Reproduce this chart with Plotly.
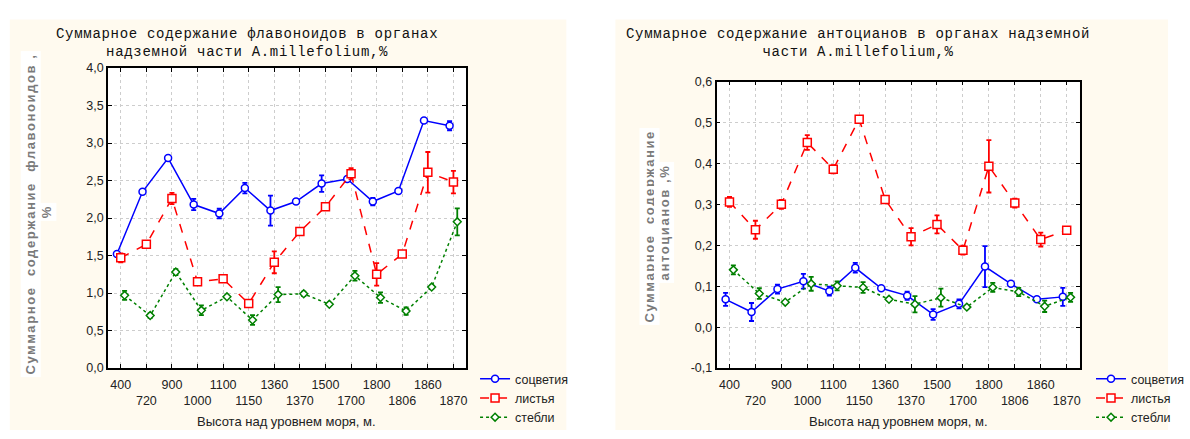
import plotly.graph_objects as go

# ---------------- data ----------------
altitudes = ["400", "720", "900", "1000", "1100", "1150", "1360", "1370",
             "1500", "1700", "1800", "1806", "1860", "1870"]
series_names = ["соцветия", "листья", "стебли"]

# Flavonoids, %
flav_infl = [1.52, 2.35, 2.80, 2.18, 2.06, 2.40, 2.10, 2.22, 2.46, 2.52, 2.22, 2.36, 3.30, 3.23]
flav_infl_err = [0.02, 0.02, 0.02, 0.075, 0.064, 0.07, 0.20, 0.03, 0.11, 0.02, 0.05, 0.01, 0.01, 0.06]
flav_leaf = [1.47, 1.65, 2.26, 1.15, 1.19, 0.86, 1.41, 1.82, 2.15, 2.59, 1.25, 1.52, 2.61, 2.48]
flav_leaf_err = [0.06, 0.03, 0.075, 0.03, 0.03, 0.02, 0.146, 0.03, 0.02, 0.075, 0.15, 0.02, 0.27, 0.15]
flav_stem = [0.97, 0.70, 1.28, 0.77, 0.95, 0.64, 0.98, 0.99, 0.85, 1.23, 0.94, 0.76, 1.08, 1.95]
flav_stem_err = [0.06, 0.03, 0.04, 0.065, 0.01, 0.065, 0.10, 0.03, 0.01, 0.065, 0.07, 0.05, 0.02, 0.18]

# Anthocyanins, %
anth_infl = [0.068, 0.037, 0.093, 0.112, 0.088, 0.145, 0.095, 0.077, 0.031, 0.057, 0.148, 0.106, 0.068, 0.074]
anth_infl_err = [0.016, 0.022, 0.011, 0.018, 0.011, 0.012, 0.003, 0.010, 0.013, 0.011, 0.050, 0.004, 0.004, 0.022]
anth_leaf = [0.306, 0.238, 0.300, 0.451, 0.386, 0.508, 0.312, 0.221, 0.251, 0.188, 0.393, 0.303, 0.214, 0.237]
anth_leaf_err = [0.012, 0.022, 0.011, 0.018, 0.010, 0.005, 0.003, 0.021, 0.022, 0.011, 0.064, 0.011, 0.017, 0.008]
anth_stem = [0.140, 0.082, 0.061, 0.106, 0.101, 0.097, 0.068, 0.056, 0.072, 0.049, 0.097, 0.086, 0.051, 0.073]
anth_stem_err = [0.011, 0.013, 0.003, 0.017, 0.011, 0.013, 0.003, 0.020, 0.022, 0.003, 0.011, 0.010, 0.014, 0.011]

flav_yticks = [0.0, 0.5, 1.0, 1.5, 2.0, 2.5, 3.0, 3.5, 4.0]
flav_yticktext = ["0,0", "0,5", "1,0", "1,5", "2,0", "2,5", "3,0", "3,5", "4,0"]
anth_yticks = [-0.1, 0.0, 0.1, 0.2, 0.3, 0.4, 0.5, 0.6]
anth_yticktext = ["-0,1", "0,0", "0,1", "0,2", "0,3", "0,4", "0,5", "0,6"]

# ---------------- styles ----------------
W, H = 1190, 439
colors = {"соцветия": "#0000ff", "листья": "#ff0000", "стебли": "#008000"}
dashes = {"соцветия": "solid", "листья": "dash", "стебли": "dot"}
symbols = {"соцветия": "circle", "листья": "square", "стебли": "diamond"}
msizes = {"соцветия": 7, "листья": 8, "стебли": 6}
offsets = {"соцветия": -0.15, "листья": 0.0, "стебли": 0.15}
cream = "#fffaef"


def px_x(p):
    return p / W


def px_y(p):
    return 1 - p / H


fig = go.Figure()

idx = list(range(len(altitudes)))
panels = [
    ("x", "y", "legend", [(flav_infl, flav_infl_err), (flav_leaf, flav_leaf_err), (flav_stem, flav_stem_err)]),
    ("x2", "y2", "legend2", [(anth_infl, anth_infl_err), (anth_leaf, anth_leaf_err), (anth_stem, anth_stem_err)]),
]
for xa, ya, lg, data in panels:
    for name, (vals, errs) in zip(series_names, data):
        c = colors[name]
        fig.add_trace(go.Scatter(
            x=[i + offsets[name] for i in idx], y=vals, name=name,
            xaxis=xa, yaxis=ya, legend=lg, mode="lines+markers",
            line=dict(color=c, width=1.5, dash=dashes[name]),
            marker=dict(symbol=symbols[name], size=msizes[name], color="white",
                        line=dict(color=c, width=1.5)),
            error_y=dict(type="data", array=errs, visible=True, color=c,
                         thickness=1.8, width=2.5),
        ))

tickvals = idx
ticktext = [a if i % 2 == 0 else "<br>" + a for i, a in enumerate(altitudes)]

common_x = dict(range=[-0.5, 13.5], tickmode="array", tickvals=tickvals, ticktext=ticktext,
                tickangle=0, ticklabelstandoff=4,
                showgrid=True, gridcolor="#cdcdcd", griddash="dot", gridwidth=1,
                showline=True, linecolor="black", linewidth=1.5, mirror="ticks",
                ticks="inside", ticklen=4, tickcolor="black", zeroline=False,
                tickfont=dict(family="Liberation Sans, Arial", size=12.5, color="#222"))
common_y = dict(showgrid=True, gridcolor="#cdcdcd", griddash="dot", gridwidth=1,
                showline=True, linecolor="black", linewidth=1.5, mirror="ticks",
                ticks="inside", ticklen=4, tickcolor="black", zeroline=False,
                tickfont=dict(family="Liberation Sans, Arial", size=12.5, color="#222"))

# plot areas (pixels)
L = dict(x0=110, x1=475, y0=63, y1=373)
R = dict(x0=730, x1=1100, y0=77, y1=373)

legend_font = dict(family="Liberation Sans, Arial", size=12.5, color="#222")
fig.update_layout(
    width=W, height=H, margin=dict(l=0, r=0, t=0, b=0),
    paper_bgcolor="white", plot_bgcolor="white",
    xaxis=dict(domain=[px_x(L["x0"]), px_x(L["x1"])], anchor="y", **common_x),
    yaxis=dict(domain=[px_y(L["y1"]), px_y(L["y0"])], anchor="x", range=[0, 4],
               tickmode="array", tickvals=flav_yticks, ticktext=flav_yticktext, **common_y),
    xaxis2=dict(domain=[px_x(R["x0"]), px_x(R["x1"])], anchor="y2", **common_x),
    yaxis2=dict(domain=[px_y(R["y1"]), px_y(R["y0"])], anchor="x2", range=[-0.1, 0.6],
                tickmode="array", tickvals=anth_yticks, ticktext=anth_yticktext, **common_y),
    legend=dict(x=px_x(484), y=px_y(404), xanchor="left", yanchor="middle",
                bgcolor="rgba(0,0,0,0)", itemwidth=30, tracegroupgap=0, font=legend_font),
    legend2=dict(x=px_x(1112), y=px_y(404), xanchor="left", yanchor="middle",
                 bgcolor="rgba(0,0,0,0)", itemwidth=30, tracegroupgap=0, font=legend_font),
    showlegend=True,
)

shapes = [
    dict(type="rect", xref="paper", yref="paper", x0=px_x(10), x1=px_x(577), y0=px_y(437), y1=px_y(13),
         fillcolor=cream, line=dict(width=0), layer="below"),
    dict(type="rect", xref="paper", yref="paper", x0=px_x(627), x1=px_x(1190), y0=px_y(437), y1=px_y(13),
         fillcolor=cream, line=dict(width=0), layer="below"),
    dict(type="rect", xref="paper", yref="paper", x0=px_x(L["x0"]), x1=px_x(L["x1"]),
         y0=px_y(L["y1"]), y1=px_y(L["y0"]), fillcolor="white", line=dict(width=0), layer="below"),
    dict(type="rect", xref="paper", yref="paper", x0=px_x(R["x0"]), x1=px_x(R["x1"]),
         y0=px_y(R["y1"]), y1=px_y(R["y0"]), fillcolor="white", line=dict(width=0), layer="below"),
]
fig.update_layout(shapes=shapes)

title_font = dict(family="Liberation Mono, Courier New, monospace", size=14, color="#111")
ytitle_font = dict(family="Liberation Sans, Arial", size=13, color="#7a7a7a")
xtitle_font = dict(family="Liberation Sans, Arial", size=13, color="#222")


def ann(text, x, y, font, angle=0, bg=None):
    d = dict(text=text, x=px_x(x), y=px_y(y), xref="paper", yref="paper",
             showarrow=False, font=font, textangle=angle, xanchor="center", yanchor="middle")
    if bg:
        d.update(bgcolor=bg, borderpad=2)
    return d


sp = '<span style="letter-spacing:1.6px">%s</span>'
tsp = '<span style="letter-spacing:0.7px">%s</span>'
anns = [
    ann(tsp % "Суммарное содержание флавоноидов в органах" + "<br>" +
        tsp % "надземной части A.millefolium,%", 252, 37, title_font),
    ann(tsp % "Суммарное содержание антоцианов в органах надземной" + "<br>" +
        tsp % "части A.millefolium,%", 874, 37, title_font),
    ann(sp % "<b>Суммарное  содержание  флавоноидов ,</b>", 31, 214, ytitle_font, -90, "white"),
    ann(sp % "<b>%</b>", 47, 212, ytitle_font, -90, "white"),
    ann(sp % "<b>Суммарное  содержание</b>", 662, 227, ytitle_font, -90, "white"),
    ann(sp % "<b>антоцианов ,%</b>", 677, 222, ytitle_font, -90, "white"),
    ann("Высота над уровнем моря, м.", 292, 428, xtitle_font),
    ann("Высота над уровнем моря, м.", 915, 428, xtitle_font),
]
fig.update_layout(annotations=anns)

fig.write_html("out.html")
